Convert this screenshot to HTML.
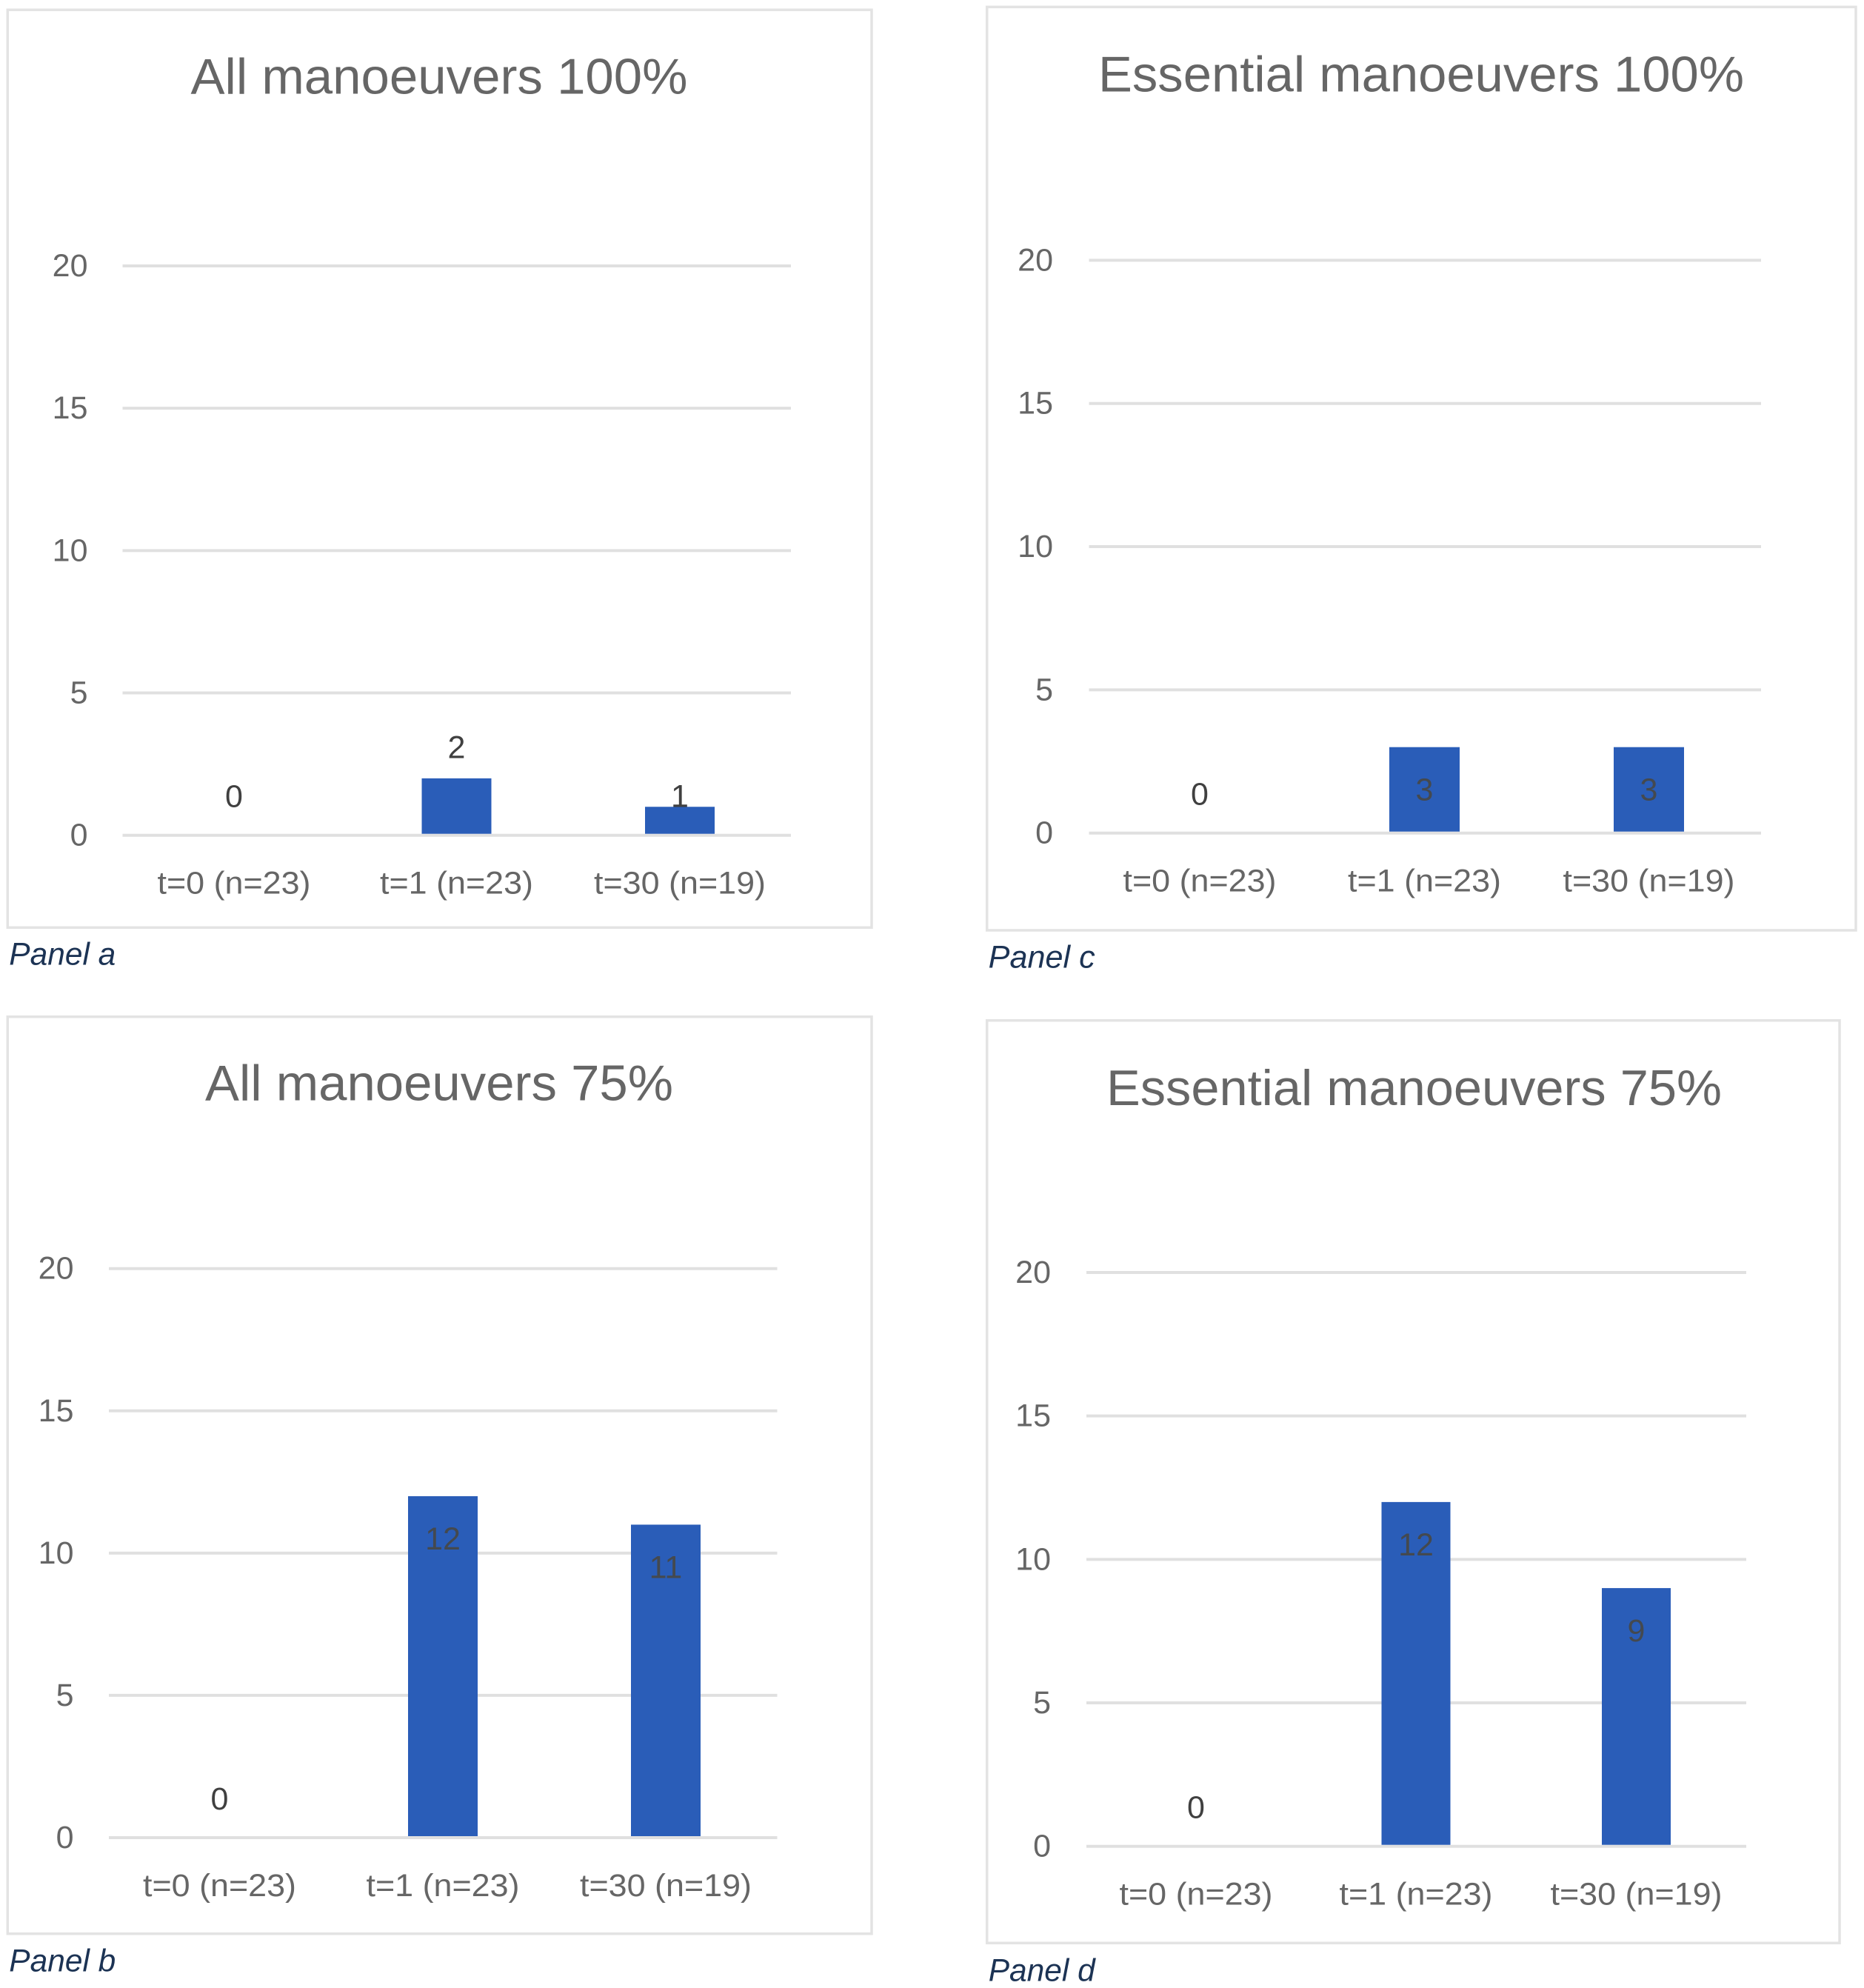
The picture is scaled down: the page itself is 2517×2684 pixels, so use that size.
<!DOCTYPE html>
<html lang="en">
<head>
<meta charset="utf-8">
<title>Manoeuvers bar chart panels</title>
<style>
  html, body { margin: 0; padding: 0; background: #fff; }
  svg { display: block; font-family: "Liberation Sans", sans-serif; }
</style>
</head>
<body>
<svg id="figure" xmlns="http://www.w3.org/2000/svg" width="2517" height="2684" viewBox="0 0 2517 2684">
  <rect x="0" y="0" width="2517" height="2684" fill="#ffffff"/>
</svg>
<script>
// ---- chart data ----
const categories = ['t=0 (n=23)', 't=1 (n=23)', 't=30 (n=19)'];
const tickLabels = [0, 5, 10, 15, 20];
const allManoeuvers100 = [0, 2, 1];
const essentialManoeuvers100 = [0, 3, 3];
const allManoeuvers75 = [0, 12, 11];
const essentialManoeuvers75 = [0, 12, 9];
const axisMax = 20;

// ---- layout ----
const NS = 'http://www.w3.org/2000/svg';
const svg = document.getElementById('figure');
const panels = [
  { id: 'a', title: 'All manoeuvers 100%', values: allManoeuvers100,
    box: [10.3, 13.3, 1177, 1252.3], plot: [165.5, 1068], y0: 1127.7, yTop: 359,
    centers: [316, 616.5, 918], barW: 94, titleCx: 593, titleY: 126.7, titleW: 671,
    tickX: 118.5, capY: 1302.7, modes: ['zero', 'above', 'onTop'] },
  { id: 'c', title: 'Essential manoeuvers 100%', values: essentialManoeuvers100,
    box: [1332.7, 9.4, 2506, 1256], plot: [1470.5, 2378], y0: 1124.7, yTop: 351.4,
    centers: [1620, 1923.5, 2226.5], barW: 95, titleCx: 1919, titleY: 123.5, titleW: 872,
    tickX: 1422, capY: 1306.7, modes: ['zero', 'inside', 'inside'] },
  { id: 'b', title: 'All manoeuvers 75%', values: allManoeuvers75,
    box: [10.3, 1372.7, 1177, 2610.7], plot: [147, 1049.5], y0: 2481, yTop: 1712.7,
    centers: [296.5, 598, 899], barW: 94, titleCx: 593, titleY: 1485.7, titleW: 632,
    tickX: 99.5, capY: 2661.7, modes: ['zero', 'inside', 'inside'] },
  { id: 'd', title: 'Essential manoeuvers 75%', values: essentialManoeuvers75,
    box: [1332.7, 1377.7, 2484, 2623.3], plot: [1467, 2358], y0: 2492.7, yTop: 1718,
    centers: [1615, 1912, 2209.5], barW: 93, titleCx: 1909.5, titleY: 1491.8, titleW: 831,
    tickX: 1419, capY: 2674.3, modes: ['zero', 'inside', 'inside'] }
];
const labelDy = { zero: -38, above: -27.4, onTop: 0, inside: 72 };

function mk(parent, tag, attrs, text) {
  const el = document.createElementNS(NS, tag);
  for (const k in attrs) el.setAttribute(k, attrs[k]);
  if (text !== undefined) el.textContent = text;
  parent.appendChild(el);
  return el;
}

panels.forEach(function (p) {
  const yScale = function (v) { return p.y0 - (v / axisMax) * (p.y0 - p.yTop); };

  const g = mk(svg, 'g', {});
  
  

  const frame = mk(g, 'rect', { x: p.box[0], y: p.box[1], width: p.box[2] - p.box[0], height: p.box[3] - p.box[1], fill: '#ffffff', stroke: '#e3e3e3', 'stroke-width': 3.5 });
  
  

  const title = mk(g, 'text', { x: p.titleCx, y: p.titleY, 'text-anchor': 'middle', 'font-size': 68, fill: '#666666', textLength: p.titleW, lengthAdjust: 'spacingAndGlyphs' }, p.title);
  
  

  tickLabels.forEach(function (t) {
    const grid = mk(g, 'line', { x1: p.plot[0], x2: p.plot[1], y1: yScale(t), y2: yScale(t), stroke: '#e0e0e0', 'stroke-width': 4 });
    
    

    const tick = mk(g, 'text', { x: p.tickX, y: yScale(t) + 14, 'text-anchor': 'end', 'font-size': 43, fill: '#666666' }, String(t));
    
    
  });

  categories.forEach(function (c, i) {
    const v = p.values[i];
    const cx = p.centers[i];

    if (v > 0) {
      const bar = mk(g, 'rect', { x: cx - p.barW / 2, y: yScale(v), width: p.barW, height: p.y0 - yScale(v) - 2, fill: '#2a5db8' });
      
      
    }

    const mode = p.modes[i];
    const valueLabel = mk(g, 'text', { x: cx, y: yScale(v) + labelDy[mode], 'text-anchor': 'middle', 'font-size': 43, fill: mode === 'inside' ? '#44494f' : '#404040' }, String(v));
    
    

    const catLabel = mk(g, 'text', { x: cx, y: p.y0 + 79, 'text-anchor': 'middle', 'font-size': 43, fill: '#666666', textLength: c.length === 10 ? 207 : 232, lengthAdjust: 'spacingAndGlyphs' }, c);
    
    
  });

  const caption = mk(g, 'text', { x: p.box[0] + 2, y: p.capY, 'font-size': 43, 'font-style': 'italic', fill: '#1c3354', textLength: 144, lengthAdjust: 'spacingAndGlyphs' }, 'Panel ' + p.id);
  
  
});
</script>
</body>
</html>
